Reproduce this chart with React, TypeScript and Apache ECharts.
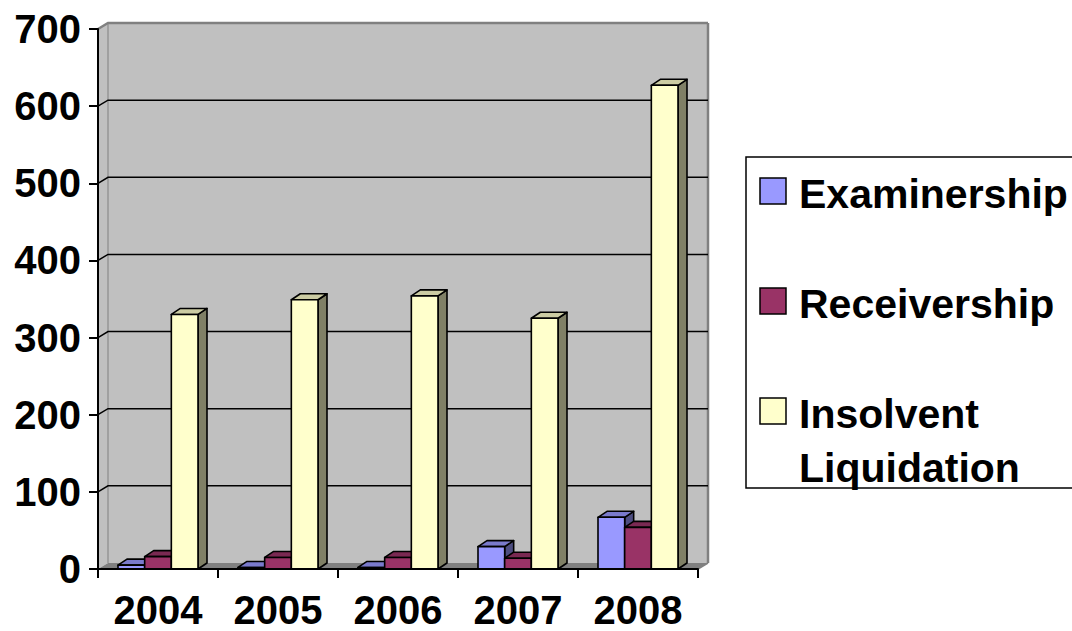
import React, { useEffect, useRef } from "react";
import * as echarts from "echarts";

const years = ["2004", "2005", "2006", "2007", "2008"];
const seriesNames = ["Examinership", "Receivership", "Insolvent Liquidation"];
const legendLabels = ["Examinership", "Receivership", "Insolvent\nLiquidation"];
const examinership = [5, 2, 2, 29, 67];
const receivership = [16, 15, 15, 14, 54];
const insolvent = [330, 349, 354, 325, 627];
const yTicks = [0, 100, 200, 300, 400, 500, 600, 700];
const colors = ["#9999FF", "#993366", "#FFFFCC"];

const FONT = "'Liberation Sans', Arial, Helvetica, sans-serif";
const WALL_DX = 10;
const WALL_DY = -6;
const BAR_DX = 9;
const BAR_DY = -6;

function shade(hex: string, f: number) {
  const n = parseInt(hex.slice(1), 16);
  const r = Math.round(((n >> 16) & 255) * f);
  const g = Math.round(((n >> 8) & 255) * f);
  const b = Math.round((n & 255) * f);
  return `rgb(${r},${g},${b})`;
}

function barRenderer(seriesIdx: number) {
  return (params: any, api: any) => {
    const cat = api.value(0);
    const v = api.value(1);
    const p0 = api.coord([cat, 0]);
    const p1 = api.coord([cat, v]);
    const band = api.size([1, 0])[0];
    const bw = (band * 2) / 9;
    const x0 = p0[0] + (seriesIdx - 1.5) * bw;
    const x1 = x0 + bw;
    const yb = p0[1];
    const yt = p1[1];
    const c = colors[seriesIdx];
    const stroke = { stroke: "#000", lineWidth: 1.6, lineJoin: "round" };
    return {
      type: "group",
      children: [
        {
          type: "polygon",
          shape: { points: [[x1, yt], [x1 + BAR_DX, yt + BAR_DY], [x1 + BAR_DX, yb + BAR_DY], [x1, yb]] },
          style: { fill: shade(c, 0.5), ...stroke },
        },
        {
          type: "polygon",
          shape: { points: [[x0, yt], [x0 + BAR_DX, yt + BAR_DY], [x1 + BAR_DX, yt + BAR_DY], [x1, yt]] },
          style: { fill: shade(c, 0.8), ...stroke },
        },
        {
          type: "rect",
          shape: { x: x0, y: yt, width: bw, height: yb - yt },
          style: { fill: c, ...stroke },
        },
      ],
    };
  };
}

function wallRenderer(params: any, api: any) {
  const cs = params.coordSys;
  const left = cs.x;
  const right = cs.x + cs.width;
  const top = cs.y;
  const bottom = cs.y + cs.height;
  const children: any[] = [
    {
      type: "rect",
      shape: { x: left + WALL_DX, y: top + WALL_DY, width: cs.width, height: cs.height },
      style: { fill: "#c0c0c0" },
    },
    {
      type: "polygon",
      shape: { points: [[left, top], [left + WALL_DX, top + WALL_DY], [left + WALL_DX, bottom + WALL_DY], [left, bottom]] },
      style: { fill: "#c0c0c0" },
    },
    {
      type: "polygon",
      shape: { points: [[left, bottom], [left + WALL_DX, bottom + WALL_DY], [right + WALL_DX, bottom + WALL_DY], [right, bottom]] },
      style: { fill: "#808080" },
    },
    {
      type: "line",
      shape: { x1: left + WALL_DX, y1: top + WALL_DY, x2: left + WALL_DX, y2: bottom + WALL_DY },
      style: { stroke: "#808080", lineWidth: 1 },
    },
    {
      type: "line",
      shape: { x1: right + WALL_DX, y1: top + WALL_DY, x2: right + WALL_DX, y2: bottom + WALL_DY },
      style: { stroke: "#808080", lineWidth: 2.5 },
    },
    {
      type: "line",
      shape: { x1: right, y1: bottom, x2: right + WALL_DX, y2: bottom + WALL_DY },
      style: { stroke: "#808080", lineWidth: 1.5 },
    },
  ];
  const maxTick = yTicks[yTicks.length - 1];
  yTicks.forEach((t) => {
    if (t === 0) return;
    const y = api.coord([0, t])[1];
    const isTop = t === maxTick;
    children.push({
      type: "polyline",
      shape: { points: [[left, y], [left + WALL_DX, y + WALL_DY], [right + WALL_DX, y + WALL_DY]] },
      style: { stroke: isTop ? "#808080" : "#000", lineWidth: isTop ? 2.5 : 1.5, fill: null },
    });
  });
  return { type: "group", children };
}

export default function App() {
  const ref = useRef<HTMLDivElement>(null);
  useEffect(() => {
    if (!ref.current) return;
    const chart = echarts.init(ref.current, null, { renderer: "svg" });
    const seriesData = [examinership, receivership, insolvent];
    const legendGraphics: any[] = [
      {
        type: "rect",
        shape: { x: 746, y: 157, width: 400, height: 331 },
        style: { fill: "#fff", stroke: "#000", lineWidth: 1.5 },
      },
    ];
    const iconTops = [178, 288, 398];
    legendLabels.forEach((lab, i) => {
      legendGraphics.push({
        type: "rect",
        shape: { x: 760, y: iconTops[i], width: 26, height: 26 },
        style: { fill: colors[i], stroke: "#000", lineWidth: 1.5 },
      });
      legendGraphics.push({
        type: "text",
        x: 799,
        y: iconTops[i] - 11,
        style: {
          text: lab,
          font: `bold 41px ${FONT}`,
          fill: "#000",
          textVerticalAlign: "top",
          lineHeight: 54,
        },
      });
    });

    chart.setOption({
      animation: false,
      backgroundColor: "#ffffff",
      grid: { left: 98, right: 374, top: 29, bottom: 62 },
      xAxis: {
        type: "category",
        data: years,
        boundaryGap: true,
        z: 10,
        axisLine: { show: true, lineStyle: { color: "#000", width: 2 } },
        axisTick: { show: true, length: 9, lineStyle: { color: "#000", width: 2 } },
        axisLabel: { color: "#000", fontSize: 40, fontWeight: "bold", fontFamily: FONT, margin: 21 },
        splitLine: { show: false },
      },
      yAxis: {
        type: "value",
        min: 0,
        max: 700,
        interval: 100,
        z: 10,
        axisLine: { show: true, lineStyle: { color: "#000", width: 2 } },
        axisTick: { show: true, length: 9, lineStyle: { color: "#000", width: 2 } },
        axisLabel: { color: "#000", fontSize: 40, fontWeight: "bold", fontFamily: FONT, margin: 17 },
        splitLine: { show: false },
      },
      series: [
        {
          type: "custom",
          name: "walls",
          z: 1,
          silent: true,
          renderItem: wallRenderer,
          data: [[0, 0]],
          encode: { x: 0, y: 1 },
        },
        ...seriesNames.map((name, si) => ({
          type: "custom",
          name,
          z: 3,
          renderItem: barRenderer(si),
          data: seriesData[si].map((v, i) => [i, v]),
          encode: { x: 0, y: 1 },
        })),
      ],
      graphic: legendGraphics,
    });
    return () => chart.dispose();
  }, []);
  return (
    <div
      ref={ref}
      style={{ position: "fixed", left: 0, top: 0, width: 1072, height: 631, background: "#fff" }}
    />
  );
}
